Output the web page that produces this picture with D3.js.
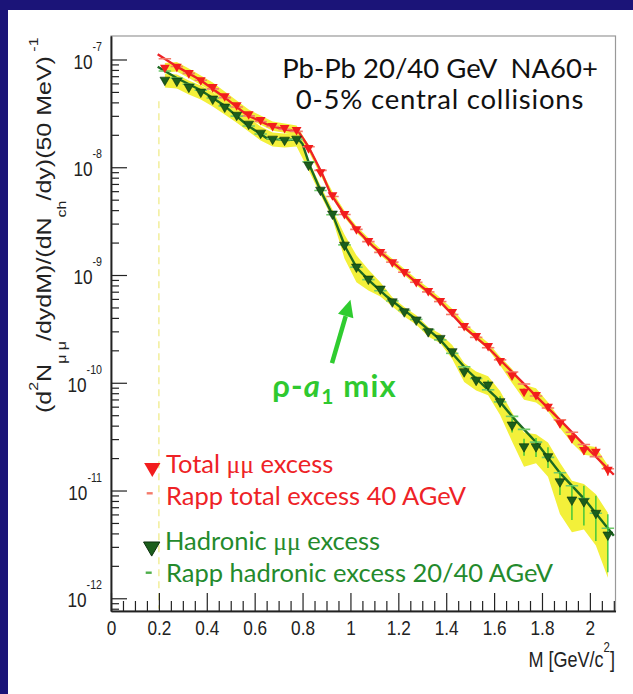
<!DOCTYPE html>
<html>
<head>
<meta charset="utf-8">
<script src="https://cdn.jsdelivr.net/npm/d3@7"></script>
<style>
  body { margin: 0; background: #1b1478; }
  svg { display: block; }
  .axis text { font-family: "Liberation Sans", Arial, sans-serif; font-size: 21px; fill: #222; }
  .axis line { stroke: #222; stroke-width: 1.2; }
  .axis .domain { stroke: #222; stroke-width: 1.5; }
  .legend { font-family: Lato, "Open Sans", sans-serif; font-size: 25.5px; }
</style>
</head>
<body>
<div id="chart"></div>
<script>
var svgWidth = 633;
var svgHeight = 694;

var margin = { top: 36, right: 17.5, bottom: 83, left: 111 };
var width = svgWidth - margin.left - margin.right;
var height = svgHeight - margin.top - margin.bottom;

// squeeze applied to the ROOT-style axis lettering
var narrow = 0.82;

// mass bins (GeV/c^2), 50 MeV wide
var massBins = [0.225, 0.275, 0.325, 0.375, 0.425, 0.475, 0.525, 0.575, 0.625, 0.675, 0.725, 0.775,
  0.825, 0.875, 0.925, 0.975, 1.025, 1.075, 1.125, 1.175, 1.225, 1.275,
  1.325, 1.375, 1.425, 1.475, 1.525, 1.575, 1.625, 1.675, 1.725, 1.775,
  1.825, 1.875, 1.925, 1.975, 2.025, 2.075];

// total mu-mu excess (red triangles)
var totalExcess = [8.43e-8, 8.61e-8, 7.50e-8, 6.45e-8, 5.56e-8, 4.58e-8, 3.78e-8, 3.12e-8, 2.75e-8, 2.42e-8, 2.32e-8, 2.22e-8,
  1.51e-8, 9.04e-9, 5.53e-9, 3.69e-9, 2.67e-9, 2.07e-9, 1.64e-9, 1.32e-9, 1.07e-9, 8.63e-10,
  7.13e-10, 5.75e-10, 4.55e-10, 3.37e-10, 2.72e-10, 2.20e-10, 1.60e-10, 1.17e-10, 8.28e-11, 7.72e-11,
  6.01e-11, 4.22e-11, 3.06e-11, 2.39e-11, 2.30e-11, 1.56e-11];
var totalStat = [0.03, 0.03, 0.03, 0.03, 0.03, 0.03, 0.03, 0.03, 0.03, 0.03, 0.03, 0.03,
  0.03, 0.03, 0.03, 0.03, 0.03, 0.03, 0.03, 0.03, 0.03, 0.03,
  0.03, 0.03, 0.03, 0.03, 0.04, 0.05, 0.05, 0.06, 0.07, 0.07,
  0.08, 0.09, 0.10, 0.10, 0.11, 0.12];
var totalSys = [0.10, 0.10, 0.10, 0.10, 0.10, 0.10, 0.10, 0.10, 0.10, 0.10, 0.10, 0.10,
  0.07, 0.07, 0.07, 0.07, 0.07, 0.07, 0.07, 0.07, 0.07, 0.07,
  0.07, 0.07, 0.07, 0.07, 0.07, 0.07, 0.09, 0.15, 0.16, 0.15,
  0.10, 0.10, 0.10, 0.10, 0.10, 0.10];

// hadronic mu-mu excess (green triangles)
var hadronicExcess = [6.45e-8, 6.32e-8, 5.56e-8, 5.00e-8, 4.31e-8, 3.63e-8, 3.05e-8, 2.52e-8, 2.08e-8, 1.83e-8, 1.79e-8, 1.83e-8,
  1.05e-8, 6.15e-9, 3.69e-9, 1.90e-9, 1.19e-9, 9.20e-10, 7.43e-10, 5.66e-10, 4.58e-10, 3.84e-10,
  2.99e-10, 2.59e-10, 1.95e-10, 1.27e-10, 1.06e-10, 9.57e-11, 6.70e-11, 4.07e-11, 2.56e-11, 2.56e-11,
  2.07e-11, 1.21e-11, 8.20e-12, 7.91e-12, 6.17e-12, 3.88e-12];
var hadronicStat = [0.04, 0.04, 0.04, 0.04, 0.04, 0.04, 0.04, 0.04, 0.04, 0.04, 0.04, 0.04,
  0.04, 0.04, 0.04, 0.04, 0.04, 0.04, 0.04, 0.04, 0.04, 0.04,
  0.04, 0.04, 0.05, 0.06, 0.08, 0.10, 0.12, 0.15, 0.18, 0.20,
  0.22, 0.25, 0.35, 0.40, 0.45, 0.55];
var hadronicSys = [0.15, 0.15, 0.15, 0.15, 0.15, 0.15, 0.15, 0.15, 0.15, 0.15, 0.15, 0.15,
  0.10, 0.10, 0.10, 0.25, 0.28, 0.22, 0.15, 0.10, 0.10, 0.10,
  0.10, 0.10, 0.15, 0.20, 0.20, 0.20, 0.25, 0.30, 0.35, 0.30,
  0.35, 0.50, 0.50, 0.45, 0.50, 0.60];

// Rapp model curves
var rappTotalM = [0.195, 0.276, 0.373, 0.470, 0.568, 0.665, 0.735, 0.783, 0.825, 0.881, 0.916, 0.971,
  1.027, 1.096, 1.180, 1.263, 1.375, 1.472, 1.570, 1.681, 1.792, 1.876, 1.980, 2.100];
var rappTotalY = [1.12e-7, 8.58e-8, 6.46e-8, 4.52e-8, 3.05e-8, 2.42e-8, 2.22e-8, 2.14e-8, 1.55e-8, 8.8e-9, 5.74e-9, 3.74e-9,
  2.62e-9, 1.83e-9, 1.29e-9, 9.0e-10, 5.67e-10, 3.32e-10, 2.17e-10, 1.22e-10, 6.9e-11, 4.5e-11, 2.6e-11, 1.40e-11];
var rappHadM = [0.195, 0.276, 0.373, 0.470, 0.568, 0.651, 0.735, 0.783, 0.800, 0.832, 0.874, 0.929,
  0.978, 1.027, 1.083, 1.152, 1.222, 1.278, 1.375, 1.486, 1.612, 1.681, 1.779, 1.876, 1.980, 2.100];
var rappHadY = [8.58e-8, 6.70e-8, 5.21e-8, 3.79e-8, 2.47e-8, 1.86e-8, 1.79e-8, 1.82e-8, 1.64e-8, 1.01e-8, 6.15e-9, 3.48e-9,
  1.83e-9, 1.16e-9, 8.69e-10, 6.31e-10, 4.75e-10, 3.83e-10, 2.50e-10, 1.32e-10, 7.20e-11, 4.70e-11, 2.75e-11, 1.45e-11, 8.20e-12, 3.80e-12];

// faint dashed acceptance edge at 0.2 GeV
var edgeMass = 0.2;
var edgeRange = [4.1e-8, 8.0e-13];

// axis ticks
var xMajorTicks = [0, 0.2, 0.4, 0.6, 0.8, 1, 1.2, 1.4, 1.6, 1.8, 2];
var xTickLabels = ["0", "0.2", "0.4", "0.6", "0.8", "1", "1.2", "1.4", "1.6", "1.8", "2"];
var yMajorTicks = [1e-12, 1e-11, 1e-10, 1e-9, 1e-8, 1e-7];
var yTickExponents = ["-12", "-11", "-10", "-9", "-8", "-7"];

var red = "#ee2226";
var green = "#1d6a22";

var svg = d3.select("#chart")
  .append("svg")
  .attr("width", svgWidth)
  .attr("height", svgHeight);

// white slide panel
svg.append("rect")
  .attr("x", 8).attr("y", 10)
  .attr("width", svgWidth - 8).attr("height", svgHeight - 10)
  .attr("fill", "#fff");

var chartGroup = svg.append("g")
  .attr("transform", `translate(${margin.left}, ${margin.top})`);

var xScale = d3.scaleLinear().domain([0, 2.107]).range([0, width]);
var yScale = d3.scaleLog().domain([7.62e-13, 1.652e-7]).range([height, 0]);

chartGroup.append("clipPath").attr("id", "plotclip")
  .append("rect").attr("width", width).attr("height", height);

// frame
chartGroup.append("rect")
  .attr("width", width).attr("height", height)
  .attr("fill", "none").attr("stroke", "#999").attr("stroke-width", 1.2);

var pts = massBins.map((m, i) => ({
  m: m,
  tot: totalExcess[i], totStat: totalStat[i], totSys: totalSys[i],
  had: hadronicExcess[i], hadStat: hadronicStat[i], hadSys: hadronicSys[i]
}));

var plot = chartGroup.append("g").attr("clip-path", "url(#plotclip)");

// systematic bands (yellow)
var bandTot = d3.area()
  .x(d => xScale(d.m))
  .y0(d => yScale(d.tot * (1 - d.totSys)))
  .y1(d => yScale(d.tot * (1 + d.totSys)));
var bandHad = d3.area()
  .x(d => xScale(d.m))
  .y0(d => yScale(d.had * (1 - d.hadSys)))
  .y1(d => yScale(d.had * (1 + d.hadSys)));

plot.append("path").datum(pts).attr("d", bandHad).attr("fill", "#f3f03a");
plot.append("path").datum(pts).attr("d", bandTot).attr("fill", "#f3f03a");

plot.append("line")
  .attr("x1", xScale(edgeMass)).attr("x2", xScale(edgeMass))
  .attr("y1", yScale(edgeRange[0])).attr("y2", yScale(edgeRange[1]))
  .attr("stroke", "#f2ee9a").attr("stroke-width", 1.5)
  .attr("stroke-dasharray", "7,5");

// Rapp curves
var modelLine = d3.line().x(d => xScale(d[0])).y(d => yScale(d[1]));
plot.append("path")
  .datum(rappTotalM.map((m, i) => [m, rappTotalY[i]]))
  .attr("d", modelLine).attr("fill", "none")
  .attr("stroke", red).attr("stroke-width", 2.4);
plot.append("path")
  .datum(rappHadM.map((m, i) => [m, rappHadY[i]]))
  .attr("d", modelLine).attr("fill", "none")
  .attr("stroke", green).attr("stroke-width", 2.4);

// binned Rapp values shown as short dashes
var rappTotAt = d3.scaleLinear().domain(rappTotalM).range(rappTotalY.map(Math.log10));
var rappHadAt = d3.scaleLinear().domain(rappHadM).range(rappHadY.map(Math.log10));

plot.selectAll(".dashTot").data(pts).enter().append("line")
  .attr("x1", d => xScale(d.m - 0.026)).attr("x2", d => xScale(d.m + 0.026))
  .attr("y1", d => yScale(Math.pow(10, rappTotAt(d.m))))
  .attr("y2", d => yScale(Math.pow(10, rappTotAt(d.m))))
  .attr("stroke", "#f47a6a").attr("stroke-width", 1.6);
plot.selectAll(".dashHad").data(pts).enter().append("line")
  .attr("x1", d => xScale(d.m - 0.026)).attr("x2", d => xScale(d.m + 0.026))
  .attr("y1", d => yScale(Math.pow(10, rappHadAt(d.m))))
  .attr("y2", d => yScale(Math.pow(10, rappHadAt(d.m))))
  .attr("stroke", "#6fc96a").attr("stroke-width", 1.6);

// statistical error bars
plot.selectAll(".errTot").data(pts).enter().append("line")
  .attr("x1", d => xScale(d.m)).attr("x2", d => xScale(d.m))
  .attr("y1", d => yScale(d.tot * (1 - d.totStat)))
  .attr("y2", d => yScale(d.tot * (1 + d.totStat)))
  .attr("stroke", "#ff3b30").attr("stroke-width", 1.4);
plot.selectAll(".errHad").data(pts).enter().append("line")
  .attr("x1", d => xScale(d.m)).attr("x2", d => xScale(d.m))
  .attr("y1", d => yScale(d.had * (1 - d.hadStat)))
  .attr("y2", d => yScale(d.had * (1 + d.hadStat)))
  .attr("stroke", "#38c43a").attr("stroke-width", 1.4);

// data markers
var tri = d3.symbol().type(d3.symbolTriangle).size(42);
plot.selectAll(".ptTot").data(pts).enter().append("path")
  .attr("d", tri)
  .attr("transform", d => `translate(${xScale(d.m)},${yScale(d.tot)}) rotate(180)`)
  .attr("fill", "#f21d1d");
plot.selectAll(".ptHad").data(pts).enter().append("path")
  .attr("d", tri)
  .attr("transform", d => `translate(${xScale(d.m)},${yScale(d.had)}) rotate(180)`)
  .attr("fill", "#1b5e1c").attr("stroke", "#0b300c").attr("stroke-width", 0.6);

// axes
var yMinorTicks = yScale.ticks().filter(v => Math.abs(Math.log10(v) - Math.round(Math.log10(v))) > 1e-6);
var xMinorTicks = xScale.ticks(42).filter(v => Math.abs(v / 0.2 - Math.round(v / 0.2)) > 1e-6);

chartGroup.append("g").attr("class", "axis")
  .call(d3.axisLeft(yScale).tickValues(yMinorTicks).tickSizeInner(-8).tickSizeOuter(0).tickFormat(""));
var yAxisG = chartGroup.append("g").attr("class", "axis")
  .call(d3.axisLeft(yScale).tickValues(yMajorTicks).tickSizeInner(-16).tickSizeOuter(0).tickFormat(""));

yAxisG.selectAll(".tick text").remove();
yAxisG.selectAll(".tick").append("text")
  .attr("x", -9 / narrow).attr("y", 8.5)
  .attr("text-anchor", "end")
  .attr("transform", `scale(${narrow},1)`)
  .each(function(d, i) {
    var t = d3.select(this);
    t.append("tspan").text("10");
    t.append("tspan").attr("dy", -18).attr("font-size", 13).text(yTickExponents[yMajorTicks.indexOf(d)]);
  });

chartGroup.append("g").attr("class", "axis")
  .attr("transform", `translate(0, ${height})`)
  .call(d3.axisBottom(xScale).tickValues(xMinorTicks).tickSizeInner(-10).tickSizeOuter(0).tickFormat(""));
chartGroup.append("g").attr("class", "axis")
  .attr("transform", `translate(0, ${height})`)
  .call(d3.axisBottom(xScale).tickValues(xMajorTicks).tickSizeInner(-18).tickSizeOuter(0)
    .tickPadding(9)
    .tickFormat((d, i) => xTickLabels[i]))
  .selectAll(".tick text")
  .attr("transform", `scale(${narrow},1)`);

// axis titles
var xTitle = svg.append("text")
  .attr("transform", `translate(615, 667) scale(${narrow},1)`)
  .attr("text-anchor", "end")
  .attr("font-family", "'Liberation Sans', Arial, sans-serif")
  .attr("font-size", 22).attr("fill", "#222");
xTitle.append("tspan").text("M [GeV/c");
xTitle.append("tspan").attr("dy", -15).attr("font-size", 14).text("2");
xTitle.append("tspan").attr("dy", 15).text("]");

var yTitle = svg.append("text")
  .attr("transform", "translate(51, 413) rotate(-90) scale(1, 0.78)")
  .attr("font-family", "'Liberation Sans', Arial, sans-serif")
  .attr("font-size", 25).attr("fill", "#222");
yTitle.append("tspan").text("(d");
yTitle.append("tspan").attr("dy", -17).attr("font-size", 16).text("2");
yTitle.append("tspan").attr("dy", 17).text("N");
yTitle.append("tspan").attr("dy", 19).attr("font-size", 16).text("μ μ");
yTitle.append("tspan").attr("dy", -19).text("/dydM)/(dN");
yTitle.append("tspan").attr("dy", 19).attr("font-size", 16).text("ch");
yTitle.append("tspan").attr("dy", -19).text("/dy)(50 MeV)");
yTitle.append("tspan").attr("dy", -17).attr("font-size", 16).text(" -1");

// header text
var header = svg.append("g").attr("class", "legend").attr("fill", "#111");
header.append("text").attr("x", 440).attr("y", 78).attr("text-anchor", "middle")
  .attr("font-size", 27.5).text("Pb-Pb 20/40 GeV\u00a0\u00a0NA60+");
header.append("text").attr("x", 440).attr("y", 109).attr("text-anchor", "middle")
  .attr("font-size", 27.5).attr("letter-spacing", 0.8).text("0-5% central collisions");

// legend
var legendG = svg.append("g").attr("class", "legend");
var bigTri = d3.symbol().type(d3.symbolTriangle).size(115);
legendG.append("path").attr("d", bigTri)
  .attr("transform", "translate(152.3,467.7) rotate(180)").attr("fill", "#f21d1d");
legendG.append("line").attr("x1", 146.7).attr("x2", 152.7).attr("y1", 493.3).attr("y2", 493.3)
  .attr("stroke", "#f47a6a").attr("stroke-width", 2.4);
legendG.append("path").attr("d", bigTri)
  .attr("transform", "translate(151.7,546.7) rotate(180)").attr("fill", "#1b5e1c")
  .attr("stroke", "#0b300c").attr("stroke-width", 1);
legendG.append("line").attr("x1", 145.7).attr("x2", 151.7).attr("y1", 572.7).attr("y2", 572.7)
  .attr("stroke", "#4fae4a").attr("stroke-width", 2.4);

var l1 = legendG.append("text").attr("x", 166).attr("y", 473).attr("fill", red);
l1.append("tspan").text("Total ");
l1.append("tspan").attr("font-family", "'Liberation Serif', serif").text("μμ");
l1.append("tspan").text(" excess");
legendG.append("text").attr("x", 166).attr("y", 505).attr("fill", red).text("Rapp total excess 40 AGeV");
var l3 = legendG.append("text").attr("x", 165).attr("y", 550).attr("fill", "#248a2c");
l3.append("tspan").text("Hadronic ");
l3.append("tspan").attr("font-family", "'Liberation Serif', serif").text("μμ");
l3.append("tspan").text(" excess");
legendG.append("text").attr("x", 166).attr("y", 582).attr("fill", "#248a2c").text("Rapp hadronic excess 20/40 AGeV");

// rho-a1 mixing annotation
var arrowFrom = [0.923, 1.52e-10];
var arrowTo = [1.0, 5.9e-10];
var ax0 = margin.left + xScale(arrowFrom[0]), ay0 = margin.top + yScale(arrowFrom[1]);
var ax1 = margin.left + xScale(arrowTo[0]), ay1 = margin.top + yScale(arrowTo[1]);
var len = Math.hypot(ax1 - ax0, ay1 - ay0);
var ux = (ax1 - ax0) / len, uy = (ay1 - ay0) / len;
var bx = ax1 - 17 * ux, by = ay1 - 17 * uy;
svg.append("line").attr("x1", ax0).attr("y1", ay0).attr("x2", bx).attr("y2", by)
  .attr("stroke", "#2fcc2f").attr("stroke-width", 4.5);
svg.append("path")
  .attr("d", `M${ax1},${ay1}L${bx - 8 * uy},${by + 8 * ux}L${bx + 8 * uy},${by - 8 * ux}Z`)
  .attr("fill", "#2fcc2f");

var mix = svg.append("text")
  .attr("x", margin.left + xScale(0.673)).attr("y", margin.top + yScale(7.4e-11))
  .attr("font-family", "Lato, 'Open Sans', sans-serif").attr("font-weight", "bold")
  .attr("font-size", 31).attr("letter-spacing", 1.2).attr("fill", "#2fc92f");
mix.append("tspan").text("ρ-");
mix.append("tspan").attr("font-style", "italic").text("a");
mix.append("tspan").attr("dy", 7).attr("font-size", 21).text("1");
mix.append("tspan").attr("dy", -7).text(" mix");
</script>
</body>
</html>
